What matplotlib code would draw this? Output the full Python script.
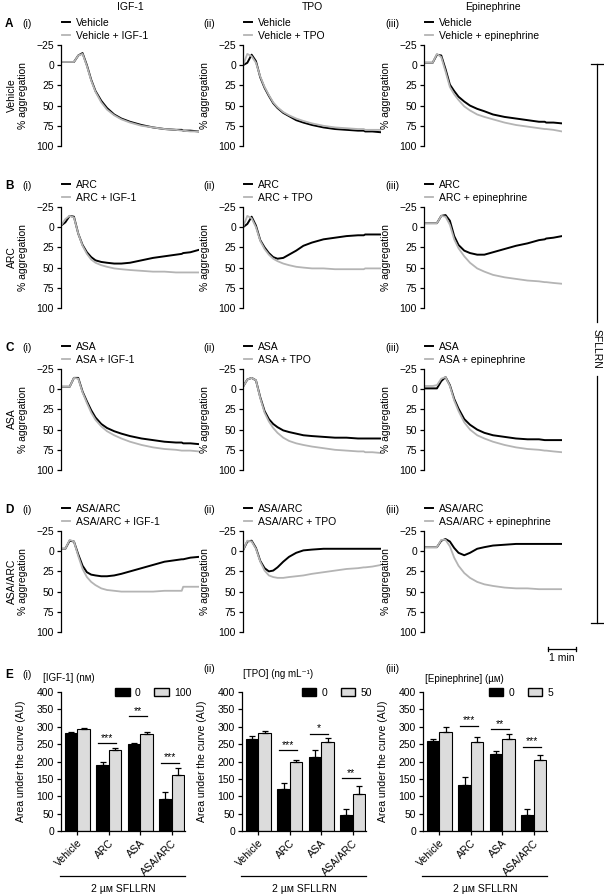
import matplotlib
matplotlib.use("Agg")
import matplotlib.pyplot as plt
from matplotlib.lines import Line2D
from matplotlib.patches import Patch

plt.rcParams['font.family'] = ['Liberation Sans', 'DejaVu Sans']
plt.rcParams['font.size'] = 7.5

W, H = 604, 894

# ---- aggregation traces (% aggregation) ----
t_min = [0, 0.15, 0.3, 0.45, 0.6, 0.75, 0.9, 1.05, 1.2, 1.4, 1.6, 1.85,
         2.1, 2.4, 2.8, 3.2, 3.6, 4.0, 4.2, 4.25, 4.5, 4.8]

veh_igf_ctrl = [-4, -4, -4, -4, -12, -15, 0, 18, 32, 44, 53, 61, 66, 70, 74, 77, 79, 80, 80, 81, 81, 82]
veh_igf_trt = [-4, -4, -4, -4, -12, -14, 1, 19, 33, 46, 55, 62, 67, 71, 75, 77, 79, 80, 81, 81, 82, 82]
veh_tpo_ctrl = [0, -3, -13, -5, 15, 28, 38, 47, 53, 59, 63, 68, 71, 74, 77, 79, 80, 81, 81, 82, 82, 83]
veh_tpo_trt = [0, -14, -11, -3, 14, 27, 37, 46, 52, 58, 62, 66, 69, 72, 75, 77, 78, 79, 79, 80, 80, 80]
veh_epi_ctrl = [-3, -3, -3, -13, -12, 5, 24, 32, 39, 45, 50, 54, 57, 61, 64, 66, 68, 70, 70, 71, 71, 72]
veh_epi_trt = [-3, -3, -3, -14, -10, 8, 27, 36, 43, 51, 56, 61, 64, 67, 71, 74, 76, 78, 79, 79, 80, 82]

arc_igf_ctrl = [-2, -6, -14, -13, 8, 22, 31, 37, 41, 43, 44, 45, 45, 44, 41, 38, 36, 34, 33, 32, 31, 28]
arc_igf_trt = [-2, -10, -14, -12, 8, 23, 33, 40, 44, 47, 49, 51, 52, 53, 54, 55, 55, 56, 56, 56, 56, 56]
arc_tpo_ctrl = [0, -4, -13, -2, 16, 25, 32, 37, 39, 38, 34, 29, 23, 19, 15, 13, 11, 10, 10, 9, 9, 9]
arc_tpo_trt = [0, -14, -11, 0, 17, 27, 34, 39, 42, 45, 47, 49, 50, 51, 51, 52, 52, 52, 52, 51, 51, 51]
arc_epi_ctrl = [-5, -5, -5, -5, -14, -15, -8, 11, 22, 29, 32, 34, 34, 31, 27, 23, 20, 16, 15, 14, 13, 11]
arc_epi_trt = [-5, -5, -5, -5, -14, -13, -3, 15, 26, 36, 44, 51, 55, 59, 62, 64, 66, 67, 68, 68, 69, 70]

asa_igf_ctrl = [-3, -3, -3, -14, -14, 3, 15, 26, 35, 43, 48, 52, 55, 58, 61, 63, 65, 66, 66, 67, 67, 68]
asa_igf_trt = [-3, -3, -3, -14, -13, 4, 17, 29, 38, 46, 52, 57, 61, 65, 69, 72, 74, 75, 76, 76, 76, 77]
asa_tpo_ctrl = [-3, -12, -14, -11, 10, 27, 37, 43, 47, 51, 53, 55, 57, 58, 59, 60, 60, 61, 61, 61, 61, 61]
asa_tpo_trt = [-3, -12, -14, -11, 11, 29, 40, 48, 54, 60, 64, 67, 69, 71, 73, 75, 76, 77, 77, 78, 78, 79]
asa_epi_ctrl = [-1, -1, -1, -1, -10, -15, -5, 12, 24, 37, 44, 50, 54, 57, 59, 61, 62, 62, 63, 63, 63, 63]
asa_epi_trt = [-4, -4, -4, -5, -13, -15, -4, 14, 27, 41, 50, 57, 61, 65, 69, 72, 74, 75, 76, 76, 77, 78]

both_igf_ctrl = [-3, -3, -13, -12, 4, 18, 26, 29, 30, 31, 31, 30, 28, 25, 21, 17, 13, 11, 10, 10, 8, 7]
both_igf_trt = [-3, -3, -14, -12, 6, 22, 32, 38, 42, 46, 48, 49, 50, 50, 50, 50, 49, 49, 49, 44, 44, 44]
both_tpo_ctrl = [-1, -12, -13, -4, 12, 21, 25, 24, 20, 13, 7, 2, -1, -2, -3, -3, -3, -3, -3, -3, -3, -3]
both_tpo_trt = [-1, -13, -12, -3, 13, 24, 30, 32, 33, 33, 32, 31, 30, 28, 26, 24, 22, 21, 20, 20, 19, 17]
both_epi_ctrl = [-5, -5, -5, -5, -13, -15, -12, -4, 2, 5, 2, -3, -5, -7, -8, -9, -9, -9, -9, -9, -9, -9]
both_epi_trt = [-5, -5, -5, -5, -14, -14, -6, 8, 18, 27, 33, 38, 41, 43, 45, 46, 46, 47, 47, 47, 47, 47]

row_names = ['Vehicle', 'ARC', 'ASA', 'ASA/ARC']
row_letters = ['A', 'B', 'C', 'D']
col_titles = ['IGF-1', 'TPO', 'Epinephrine']
col_agents = ['IGF-1', 'TPO', 'epinephrine']
col_tags = ['(i)', '(ii)', '(iii)']

# ---- area under the curve (AU), mean and SEM ----
bar_groups = ['Vehicle', 'ARC', 'ASA', 'ASA/ARC']
igf_auc_0 = [281, 190, 251, 92]
igf_err_0 = [5, 10, 3, 19]
igf_auc_1 = [293, 232, 280, 160]
igf_err_1 = [4, 8, 5, 20]
tpo_auc_0 = [266, 120, 214, 45]
tpo_err_0 = [8, 19, 20, 17]
tpo_auc_1 = [281, 200, 255, 107]
tpo_err_1 = [8, 4, 12, 23]
epi_auc_0 = [259, 133, 221, 45]
epi_err_0 = [6, 23, 8, 18]
epi_auc_1 = [286, 255, 266, 204]
epi_err_1 = [14, 15, 13, 16]
igf_sig = [(1, 253, '***'), (2, 330, '**'), (3, 196, '***')]
tpo_sig = [(1, 232, '***'), (2, 280, '*'), (3, 152, '**')]
epi_sig = [(1, 303, '***'), (2, 293, '**'), (3, 242, '***')]
bar_titles = ['[IGF-1] (nм)', '[TPO] (ng mL⁻¹)', '[Epinephrine] (µм)']
dose_labels = [('0', '100'), ('0', '50'), ('0', '5')]

traces = [
    [(veh_igf_ctrl, veh_igf_trt), (veh_tpo_ctrl, veh_tpo_trt), (veh_epi_ctrl, veh_epi_trt)],
    [(arc_igf_ctrl, arc_igf_trt), (arc_tpo_ctrl, arc_tpo_trt), (arc_epi_ctrl, arc_epi_trt)],
    [(asa_igf_ctrl, asa_igf_trt), (asa_tpo_ctrl, asa_tpo_trt), (asa_epi_ctrl, asa_epi_trt)],
    [(both_igf_ctrl, both_igf_trt), (both_tpo_ctrl, both_tpo_trt), (both_epi_ctrl, both_epi_trt)],
]
bars = [
    (igf_auc_0, igf_err_0, igf_auc_1, igf_err_1, igf_sig),
    (tpo_auc_0, tpo_err_0, tpo_auc_1, tpo_err_1, tpo_sig),
    (epi_auc_0, epi_err_0, epi_auc_1, epi_err_1, epi_sig),
]

GREY = '#b4b4b4'
BARGREY = '#dcdcdc'


def fx(x):
    return x / W


def fy(y):
    return 1 - y / H


def px_axes(left, top, right, bottom):
    return fig.add_axes([fx(left), fy(bottom), (right - left) / W, (bottom - top) / H])


fig = plt.figure(figsize=(W / 100, H / 100), dpi=100)

col_left = [61, 243, 424]
row_top = [45, 207, 369, 531]
trace_w, trace_h = 138, 101

for c, title in enumerate(col_titles):
    fig.text(fx(col_left[c] + 69), fy(7), title, ha='center', va='center')

for r in range(4):
    top = row_top[r]
    fig.text(fx(5), fy(top - 21), row_letters[r], fontweight='bold', fontsize=8.5, va='center')
    fig.text(fx(12), fy(top + 50), row_names[r], rotation=90, ha='center', va='center')
    for c in range(3):
        left = col_left[c]
        ax = px_axes(left, top, left + trace_w, top + trace_h)
        ctrl, trt = traces[r][c]
        l1, = ax.plot(t_min, ctrl, color='black', lw=1.4)
        l2, = ax.plot(t_min, trt, color=GREY, lw=1.3)
        ax.set_xlim(0, 4.8)
        ax.set_ylim(100, -25)
        ax.set_yticks([-25, 0, 25, 50, 75, 100])
        ax.set_xticks([])
        for s in ['top', 'right', 'bottom']:
            ax.spines[s].set_visible(False)
        ax.spines['left'].set_linewidth(0.9)
        ax.tick_params(axis='y', length=3, width=0.9, pad=2)
        ax.set_ylabel('% aggregation')
        ax.yaxis.set_label_coords(-0.24, 0.5)
        tag_x = [22, 203, 385][c]
        fig.text(fx(tag_x), fy(top - 21), col_tags[c], va='center')
        ax.legend([l1, l2], [row_names[r], row_names[r] + ' + ' + col_agents[c]],
                  loc='upper left', bbox_to_anchor=(fx(left + 1), fy(top - 27)),
                  bbox_transform=fig.transFigure, frameon=False, borderpad=0,
                  handlelength=0.8, handletextpad=0.5, labelspacing=0.25,
                  borderaxespad=0, fontsize=7.5)
        if r == 3 and c == 2:
            # 1 min time scale bar
            ax.plot([4.3, 5.3], [121, 121], color='black', lw=0.9, clip_on=False)
            ax.plot([4.3, 4.3], [118, 124], color='black', lw=0.9, clip_on=False)
            ax.plot([5.3, 5.3], [118, 124], color='black', lw=0.9, clip_on=False)
            ax.text(4.8, 126, '1 min', ha='center', va='top', clip_on=False)

# SFLLRN bracket on the right
fig.add_artist(Line2D([fx(597), fx(597)], [fy(64), fy(322)], color='black', lw=0.9))
fig.add_artist(Line2D([fx(597), fx(597)], [fy(376), fy(623)], color='black', lw=0.9))
fig.add_artist(Line2D([fx(591), fx(603)], [fy(64), fy(64)], color='black', lw=0.9))
fig.add_artist(Line2D([fx(591), fx(603)], [fy(623), fy(623)], color='black', lw=0.9))
fig.text(fx(597), fy(349), 'SFLLRN', rotation=-90, ha='center', va='center')

# ---- E: bar charts ----
bar_left = [61, 242, 423]
bar_w_px = 124
fig.text(fx(5), fy(675), 'E', fontweight='bold', fontsize=8.5, va='center')
tag_pos = [(22, 675), (203, 669), (385, 669)]
title_pos = [(43, 678), (243, 674), (425, 679)]
xs = list(range(len(bar_groups)))
bw = 0.4
for c in range(3):
    left = bar_left[c]
    ax = px_axes(left, 692, left + bar_w_px, 831)
    a0, e0, a1, e1, sig = bars[c]
    x0 = [x - bw / 2 for x in xs]
    x1 = [x + bw / 2 for x in xs]
    ax.bar(x0, a0, width=bw, color='black', edgecolor='black', lw=0.8)
    ax.bar(x1, a1, width=bw, color=BARGREY, edgecolor='black', lw=0.8)
    ax.errorbar(x0, a0, yerr=[[0] * 4, e0], fmt='none', ecolor='black',
                elinewidth=0.9, capsize=2.5, capthick=0.9)
    ax.errorbar(x1, a1, yerr=[[0] * 4, e1], fmt='none', ecolor='black',
                elinewidth=0.9, capsize=2.5, capthick=0.9)
    for g, yv, stars in sig:
        ax.plot([g - 0.35, g + 0.22], [yv, yv], color='black', lw=0.9)
        ax.text(g - 0.065, yv + 1, stars, ha='center', va='bottom', fontsize=7.5)
    ax.set_xlim(-0.52, 3.42)
    ax.set_ylim(0, 400)
    ax.set_yticks(range(0, 401, 50))
    ax.set_xticks(xs)
    ax.set_xticklabels(bar_groups, rotation=45, ha='right', rotation_mode='anchor')
    for s in ['top', 'right']:
        ax.spines[s].set_visible(False)
    ax.spines['left'].set_linewidth(0.9)
    ax.spines['bottom'].set_linewidth(0.9)
    ax.tick_params(length=3, width=0.9, pad=2)
    ax.set_ylabel('Area under the curve (AU)')
    ax.yaxis.set_label_coords(-0.28, 0.5)
    ax.legend([Patch(facecolor='black', edgecolor='black'),
               Patch(facecolor=BARGREY, edgecolor='black')],
              list(dose_labels[c]), ncol=2, loc='upper right',
              bbox_to_anchor=(1.05, 1.03), frameon=False, handlelength=1.4,
              handleheight=0.8, handletextpad=0.5, columnspacing=1.3,
              borderpad=0, borderaxespad=0, fontsize=7.5)
    fig.text(fx(tag_pos[c][0]), fy(tag_pos[c][1]), col_tags[c], va='center')
    fig.text(fx(title_pos[c][0]), fy(title_pos[c][1]), bar_titles[c], va='center', fontsize=7)
    fig.add_artist(Line2D([fx(left - 1), fx(left + bar_w_px)], [fy(876), fy(876)],
                          color='black', lw=0.9))
    fig.text(fx(left + bar_w_px / 2), fy(889), '2 µм SFLLRN', ha='center', va='center')

fig.savefig('out.png', dpi=100)
